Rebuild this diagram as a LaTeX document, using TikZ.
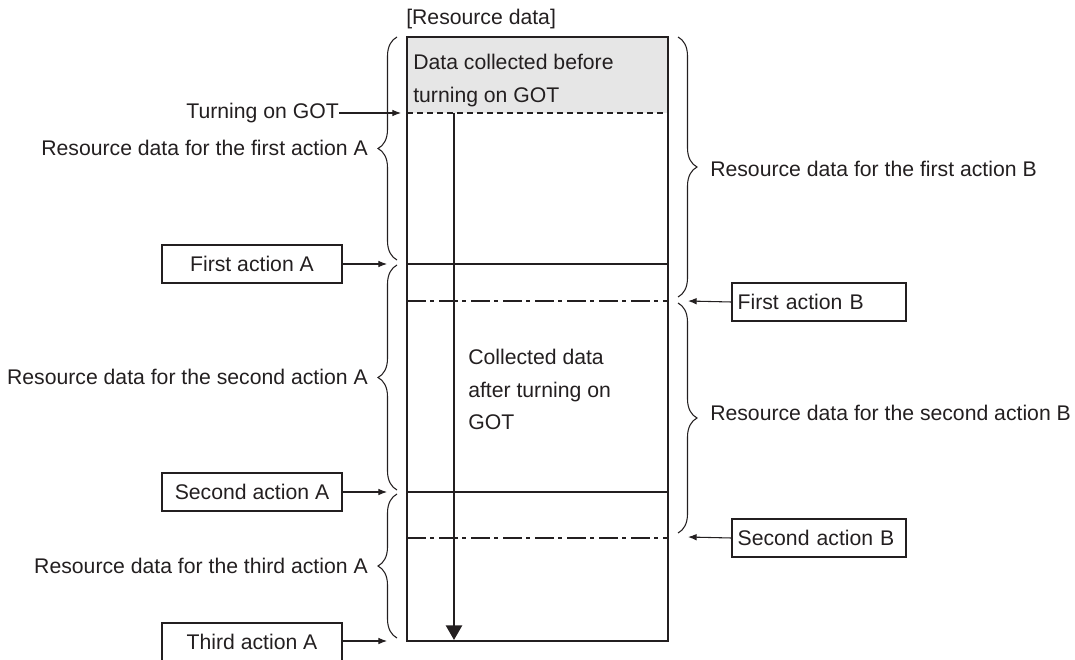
\documentclass[tikz,border=0pt]{standalone}
\usepackage{fontspec}
\setmainfont{Liberation Sans}
\usetikzlibrary{arrows.meta,decorations.pathreplacing}
\definecolor{ink}{RGB}{35,31,32}
\definecolor{greyfill}{RGB}{230,230,230}
\tikzset{
  lbl/.style={inner sep=0pt, text=ink, font=\fontsize{15.9}{24.4}\selectfont},
  abox/.style={draw=ink, line width=0.8pt, minimum width=135pt, minimum height=28.5pt, inner sep=0pt, text=ink, font=\fontsize{15.9}{24.4}\selectfont},
  bbox/.style={draw=ink, line width=0.8pt, minimum width=130.5pt, minimum height=28.5pt, inner sep=0pt, text=ink, font=\fontsize{15.9}{24.4}\selectfont},
  sarrow/.style={draw=ink, line width=0.8pt, -{Latex[length=6.5pt,width=5pt]}},
  bigarrow/.style={draw=ink, line width=2pt, -{Triangle[length=11pt,width=12pt]}},
  bracel/.style={draw=ink, line width=0.8pt, decorate, decoration={brace, amplitude=14.25pt}},
  frame/.style={draw=ink, line width=0.9pt},
  divdash/.style={draw=ink, line width=0.8pt, dash pattern=on 4.5pt off 3pt},
  divdot/.style={draw=ink, line width=0.8pt, dash pattern=on 14pt off 3.5pt on 3pt off 3.5pt},
}
\begin{document}
\begin{tikzpicture}[x=0.75pt,y=0.75pt]
\useasboundingbox (0,-660) rectangle (1075,0);
% main column
\fill[greyfill] (407,-37) rectangle (668,-113);
\draw[frame] (407,-37) rectangle (668,-641);
\draw[divdash] (407,-113) -- (668,-113);
\draw[frame] (407,-264) -- (668,-264);
\draw[frame] (407,-492) -- (668,-492);
\draw[divdot] (407,-301) -- (668,-301);
\draw[divdot] (407,-538) -- (668,-538);
\node[lbl, anchor=west] (title) at (406,-19) {[Resource data]};
\node[lbl, anchor=north west, align=left] (pre) at (413,-54) {Data collected before\\turning on GOT};
\node[lbl, anchor=north west, align=left] (post) at (468,-349) {Collected data\\after turning on\\GOT};
\coordinate (arrS) at (454,-113);
\coordinate (arrE) at (454,-640);
\draw[bigarrow] (arrS) -- (arrE);
% turning on GOT
\node[lbl, anchor=east] (ton) at (339,-113) {Turning on GOT};
\coordinate (tonT) at (401,-113);
\draw[sarrow] (ton.east) -- (tonT);
% left braces
\draw[bracel] (397,-260) -- (397,-37);
\draw[bracel] (397,-490) -- (397,-265);
\draw[bracel] (397,-638) -- (397,-494);
\node[lbl, anchor=east] (la1) at (368,-148) {Resource data for the first action A};
\node[lbl, anchor=east] (la2) at (368,-377) {Resource data for the second action A};
\node[lbl, anchor=east] (la3) at (368,-566) {Resource data for the third action A};
% right braces
\draw[bracel] (678,-37) -- (678,-297);
\draw[bracel] (678,-303) -- (678,-533);
\node[lbl, anchor=west] (lb1) at (710,-169) {Resource data for the first action B};
\node[lbl, anchor=west] (lb2) at (710,-413) {Resource data for the second action B};
% action A boxes
\node[abox] (fa) at (252,-264) {First action A};
\node[abox] (sa) at (252,-492) {Second action A};
\node[abox] (ta) at (252,-642) {Third action A};
\coordinate (faT) at (387,-264);
\coordinate (saT) at (387,-492);
\coordinate (taT) at (387,-641);
\draw[sarrow] (fa.east) -- (faT);
\draw[sarrow] (sa.east) -- (saT);
\draw[sarrow] (ta.east |- taT) -- (taT);
% action B boxes
\node[bbox, align=left, text width=122pt] (fb) at (819,-302) {First action B};
\node[bbox, align=left, text width=122pt] (sb) at (819,-538) {Second action B};
\coordinate (fbT) at (688,-301);
\coordinate (sbT) at (688,-537);
\draw[sarrow] (fb.west) -- (fbT);
\draw[sarrow] (sb.west) -- (sbT);
\end{tikzpicture}
\end{document}
